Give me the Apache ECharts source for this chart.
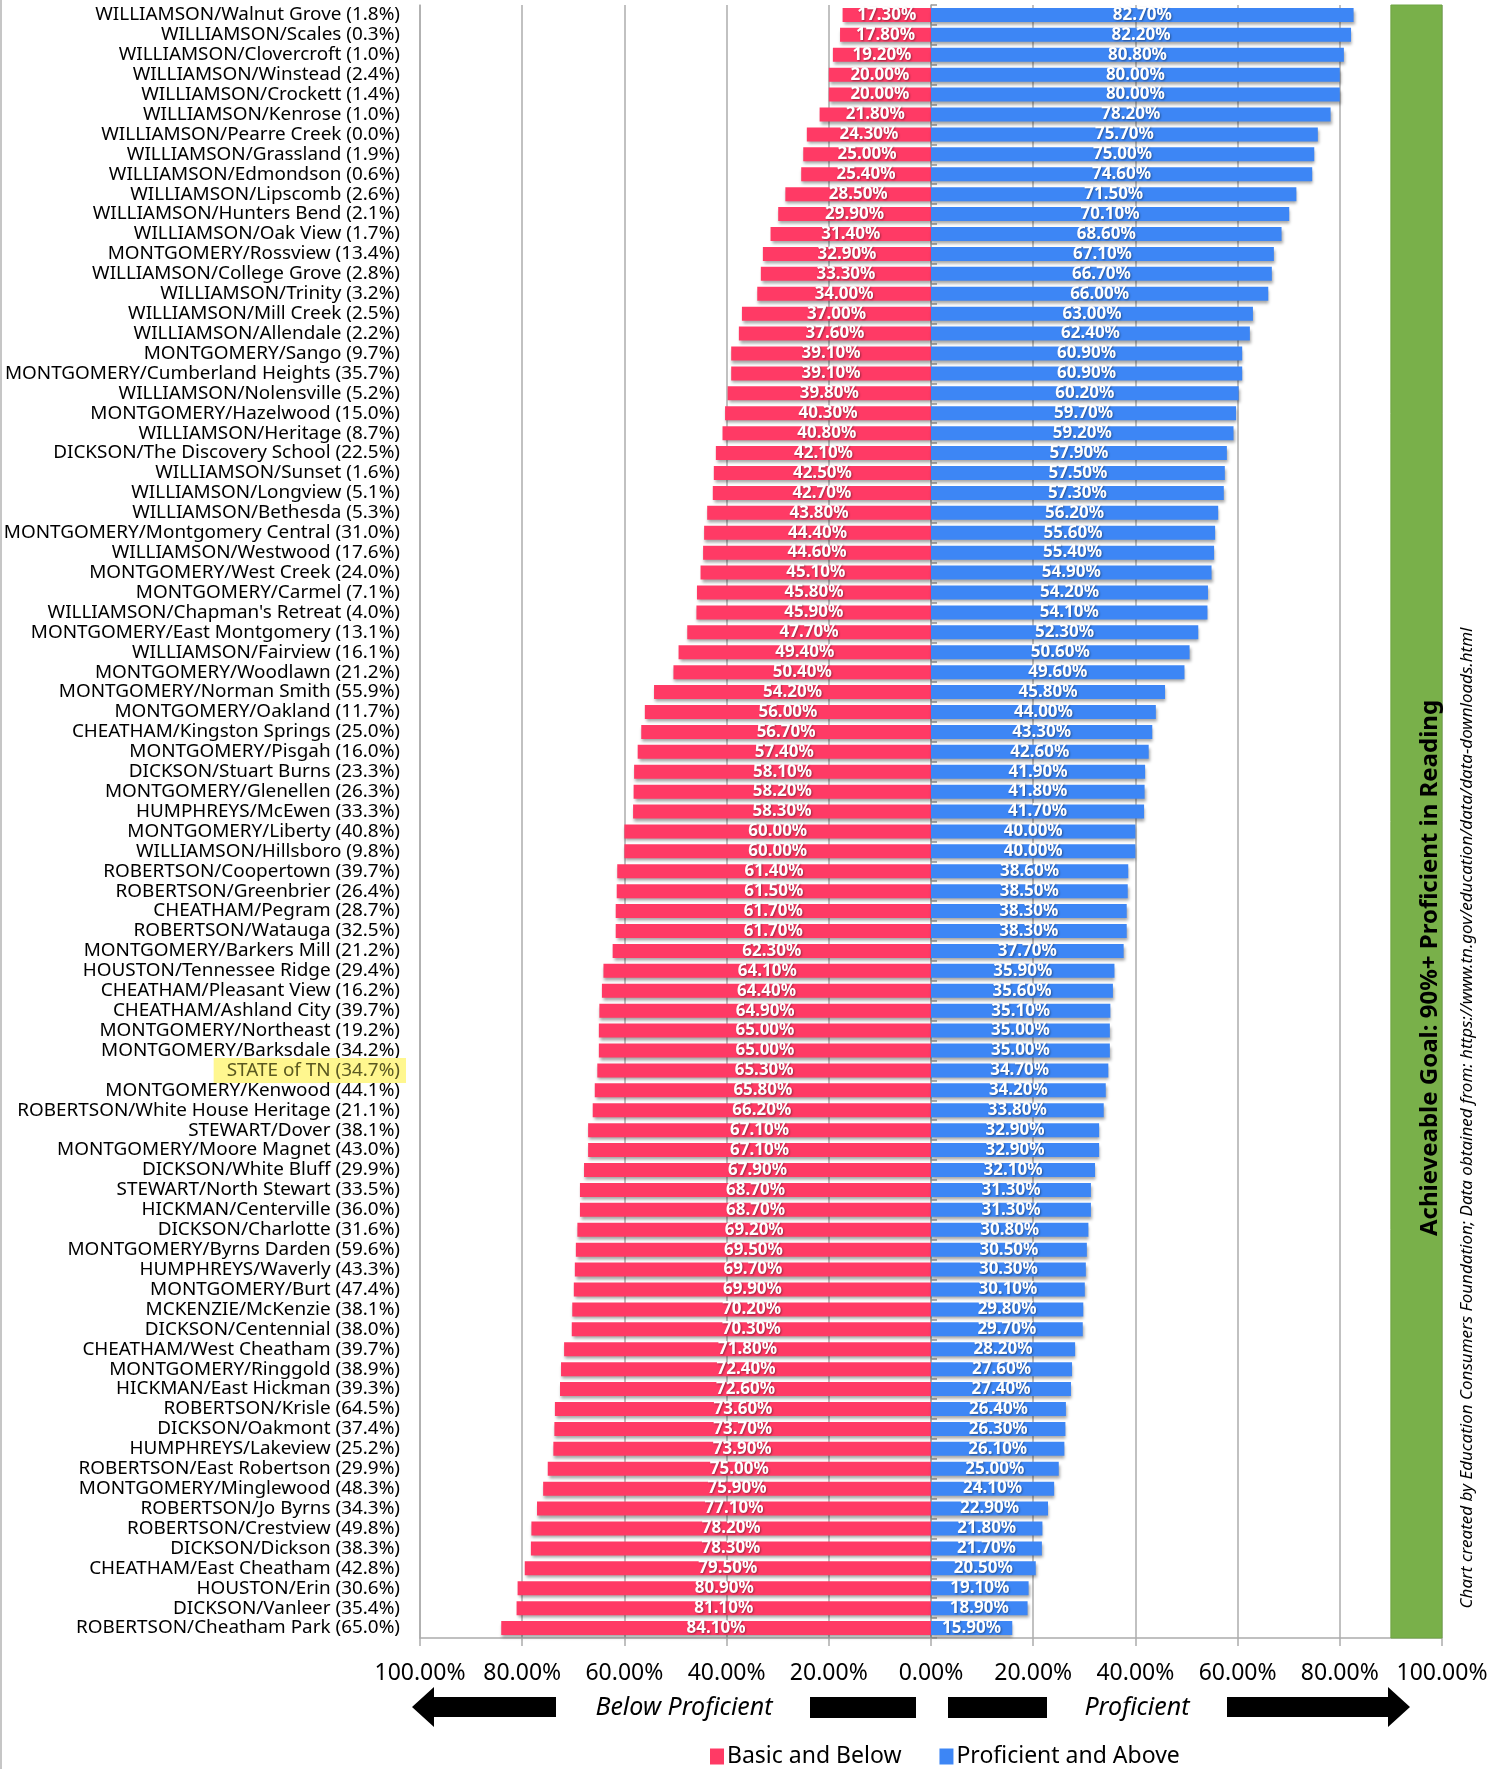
<!DOCTYPE html>
<html>
<head>
<meta charset="utf-8">
<script src="https://cdn.jsdelivr.net/npm/echarts@6/dist/echarts.min.js"></script>
<style>
html,body{margin:0;padding:0;background:#fff;}
#chart{width:1506px;height:1769px;}
</style>
</head>
<body>
<div id="chart"></div>
<script>
const categories = [
 'WILLIAMSON/Walnut Grove (1.8%)','WILLIAMSON/Scales (0.3%)','WILLIAMSON/Clovercroft (1.0%)','WILLIAMSON/Winstead (2.4%)',
 'WILLIAMSON/Crockett (1.4%)','WILLIAMSON/Kenrose (1.0%)','WILLIAMSON/Pearre Creek (0.0%)','WILLIAMSON/Grassland (1.9%)',
 'WILLIAMSON/Edmondson (0.6%)','WILLIAMSON/Lipscomb (2.6%)','WILLIAMSON/Hunters Bend (2.1%)','WILLIAMSON/Oak View (1.7%)',
 'MONTGOMERY/Rossview (13.4%)','WILLIAMSON/College Grove (2.8%)','WILLIAMSON/Trinity (3.2%)','WILLIAMSON/Mill Creek (2.5%)',
 'WILLIAMSON/Allendale (2.2%)','MONTGOMERY/Sango (9.7%)','MONTGOMERY/Cumberland Heights (35.7%)','WILLIAMSON/Nolensville (5.2%)',
 'MONTGOMERY/Hazelwood (15.0%)','WILLIAMSON/Heritage (8.7%)','DICKSON/The Discovery School (22.5%)','WILLIAMSON/Sunset (1.6%)',
 'WILLIAMSON/Longview (5.1%)','WILLIAMSON/Bethesda (5.3%)','MONTGOMERY/Montgomery Central (31.0%)','WILLIAMSON/Westwood (17.6%)',
 'MONTGOMERY/West Creek (24.0%)','MONTGOMERY/Carmel (7.1%)',"WILLIAMSON/Chapman's Retreat (4.0%)",'MONTGOMERY/East Montgomery (13.1%)',
 'WILLIAMSON/Fairview (16.1%)','MONTGOMERY/Woodlawn (21.2%)','MONTGOMERY/Norman Smith (55.9%)','MONTGOMERY/Oakland (11.7%)',
 'CHEATHAM/Kingston Springs (25.0%)','MONTGOMERY/Pisgah (16.0%)','DICKSON/Stuart Burns (23.3%)','MONTGOMERY/Glenellen (26.3%)',
 'HUMPHREYS/McEwen (33.3%)','MONTGOMERY/Liberty (40.8%)','WILLIAMSON/Hillsboro (9.8%)','ROBERTSON/Coopertown (39.7%)',
 'ROBERTSON/Greenbrier (26.4%)','CHEATHAM/Pegram (28.7%)','ROBERTSON/Watauga (32.5%)','MONTGOMERY/Barkers Mill (21.2%)',
 'HOUSTON/Tennessee Ridge (29.4%)','CHEATHAM/Pleasant View (16.2%)','CHEATHAM/Ashland City (39.7%)','MONTGOMERY/Northeast (19.2%)',
 'MONTGOMERY/Barksdale (34.2%)','STATE of TN (34.7%)','MONTGOMERY/Kenwood (44.1%)','ROBERTSON/White House Heritage (21.1%)',
 'STEWART/Dover (38.1%)','MONTGOMERY/Moore Magnet (43.0%)','DICKSON/White Bluff (29.9%)','STEWART/North Stewart (33.5%)',
 'HICKMAN/Centerville (36.0%)','DICKSON/Charlotte (31.6%)','MONTGOMERY/Byrns Darden (59.6%)','HUMPHREYS/Waverly (43.3%)',
 'MONTGOMERY/Burt (47.4%)','MCKENZIE/McKenzie (38.1%)','DICKSON/Centennial (38.0%)','CHEATHAM/West Cheatham (39.7%)',
 'MONTGOMERY/Ringgold (38.9%)','HICKMAN/East Hickman (39.3%)','ROBERTSON/Krisle (64.5%)','DICKSON/Oakmont (37.4%)',
 'HUMPHREYS/Lakeview (25.2%)','ROBERTSON/East Robertson (29.9%)','MONTGOMERY/Minglewood (48.3%)','ROBERTSON/Jo Byrns (34.3%)',
 'ROBERTSON/Crestview (49.8%)','DICKSON/Dickson (38.3%)','CHEATHAM/East Cheatham (42.8%)','HOUSTON/Erin (30.6%)',
 'DICKSON/Vanleer (35.4%)','ROBERTSON/Cheatham Park (65.0%)'
];
const basicAndBelow = [
 17.3,17.8,19.2,20.0,20.0,21.8,24.3,25.0,25.4,28.5,29.9,31.4,32.9,33.3,34.0,37.0,37.6,39.1,39.1,39.8,
 40.3,40.8,42.1,42.5,42.7,43.8,44.4,44.6,45.1,45.8,45.9,47.7,49.4,50.4,54.2,56.0,56.7,57.4,58.1,58.2,
 58.3,60.0,60.0,61.4,61.5,61.7,61.7,62.3,64.1,64.4,64.9,65.0,65.0,65.3,65.8,66.2,67.1,67.1,67.9,68.7,
 68.7,69.2,69.5,69.7,69.9,70.2,70.3,71.8,72.4,72.6,73.6,73.7,73.9,75.0,75.9,77.1,78.2,78.3,79.5,80.9,
 81.1,84.1
];
const proficientAndAbove = [
 82.7,82.2,80.8,80.0,80.0,78.2,75.7,75.0,74.6,71.5,70.1,68.6,67.1,66.7,66.0,63.0,62.4,60.9,60.9,60.2,
 59.7,59.2,57.9,57.5,57.3,56.2,55.6,55.4,54.9,54.2,54.1,52.3,50.6,49.6,45.8,44.0,43.3,42.6,41.9,41.8,
 41.7,40.0,40.0,38.6,38.5,38.3,38.3,37.7,35.9,35.6,35.1,35.0,35.0,34.7,34.2,33.8,32.9,32.9,32.1,31.3,
 31.3,30.8,30.5,30.3,30.1,29.8,29.7,28.2,27.6,27.4,26.4,26.3,26.1,25.0,24.1,22.9,21.8,21.7,20.5,19.1,
 18.9,15.9
];
const highlightCategory = 'STATE of TN (34.7%)';
const goalRange = [90, 100];
const axisMin = -100, axisMax = 100, axisInterval = 20;
const seriesNames = ['Basic and Below', 'Proficient and Above'];
const goalText = 'Achieveable Goal: 90%+ Proficient in Reading';
const sourceText = 'Chart created by Education Consumers Foundation; Data obtained from: https://www.tn.gov/education/data/data-downloads.html';

const RED = '#FF3A65', BLUE = '#3D86F5', GREEN = '#79B04A', GRID = '#ACACAC';
const FONT = "'Noto Sans', 'DejaVu Sans', sans-serif";
const NARROW = "'Liberation Sans Narrow', 'Noto Sans', sans-serif";
const CAT_FS = 18.9;

const chart = echarts.init(document.getElementById('chart'), null, {renderer: 'canvas'});

const barLabel = {
  show: true, position: 'inside', color: '#fff', fontFamily: FONT, fontSize: 17, fontWeight: 'bold',
  textShadowColor: 'rgba(0,0,0,0.4)', textShadowBlur: 2, textShadowOffsetX: 1, textShadowOffsetY: 1,
  formatter: p => Math.abs(p.value).toFixed(2) + '%'
};
const barShadow = {shadowColor: 'rgba(0,0,0,0.35)', shadowBlur: 3, shadowOffsetX: 1, shadowOffsetY: 3};

const option = {
  backgroundColor: '#fff',
  animation: false,
  grid: {left: 420, right: 64, top: 5, bottom: 131, containLabel: false},
  legend: {
    data: seriesNames, left: 705, top: 1740, itemGap: 38, itemWidth: 14, itemHeight: 16,
    icon: 'rect',
    textStyle: {fontFamily: NARROW, fontSize: 23, color: '#000', padding: [0, 0, 0, -2]}
  },
  xAxis: {
    type: 'value', min: axisMin, max: axisMax, interval: axisInterval,
    axisLine: {show: true, onZero: false, lineStyle: {color: GRID, width: 1.5}},
    axisTick: {show: true, length: 8, lineStyle: {color: GRID, width: 1.5}},
    splitLine: {show: true, lineStyle: {color: GRID, width: 1.5}},
    axisLabel: {
      margin: 24, color: '#000', fontFamily: NARROW, fontSize: 23,
      formatter: v => Math.abs(v).toFixed(2) + '%'
    }
  },
  yAxis: [
    {
      type: 'category', data: categories, inverse: true,
      axisLine: {show: true, onZero: false, lineStyle: {color: GRID, width: 1.5}},
      axisTick: {show: false},
      axisLabel: {
        interval: 0, margin: 14, fontFamily: FONT, fontSize: CAT_FS, color: '#000',
        formatter: v => v === highlightCategory ? '{hl|' + v + '}' : '{n|' + v + '}',
        rich: {
          n: {fontFamily: FONT, fontSize: CAT_FS, color: '#000', padding: [0, 6, 0, 0]},
          hl: {fontFamily: FONT, fontSize: CAT_FS, color: '#5A5820', backgroundColor: '#FFF78F', padding: [3, 6, 3, 13]}
        }
      }
    },
    {
      type: 'category', data: categories, inverse: true,
      axisLine: {show: true, onZero: true, lineStyle: {color: GRID, width: 1.5}},
      axisTick: {show: true, interval: 0, length: 6, lineStyle: {color: '#999', width: 1.5}},
      axisLabel: {show: false}
    }
  ],
  series: [
    {
      name: seriesNames[0], type: 'bar', yAxisIndex: 0, barWidth: 14, barGap: '-100%',
      itemStyle: Object.assign({color: RED}, barShadow),
      label: barLabel,
      data: basicAndBelow.map(v => -v),
      z: 3
    },
    {
      name: seriesNames[1], type: 'bar', yAxisIndex: 0, barWidth: 14,
      itemStyle: Object.assign({color: BLUE}, barShadow),
      label: barLabel,
      data: proficientAndAbove,
      z: 3,
      markArea: {
        silent: true,
        itemStyle: {color: GREEN, borderColor: '#6FA543', borderWidth: 1},
        data: [[{xAxis: goalRange[0]}, {xAxis: goalRange[1]}]]
      }
    }
  ],
  graphic: [
    {type: 'line', shape: {x1: 1, y1: 0, x2: 1, y2: 1769}, style: {stroke: '#C6C6C6', lineWidth: 2}, silent: true},
    {type: 'text', x: 1430, y: 968, rotation: Math.PI / 2, z: 10,
     style: {text: goalText, fill: '#000', font: "bold 24px 'Noto Sans', sans-serif", align: 'center', verticalAlign: 'middle'}},
    {type: 'text', x: 1467, y: 1118, rotation: Math.PI / 2, z: 10,
     style: {text: sourceText, fill: '#000', font: "italic 17px 'Noto Sans', sans-serif", align: 'center', verticalAlign: 'middle'}},
    {type: 'polygon', shape: {points: [[412,1707],[434,1687],[434,1697],[556,1697],[556,1717],[434,1717],[434,1727]]}, style: {fill: '#000'}},
    {type: 'rect', shape: {x: 810, y: 1697, width: 106, height: 21}, style: {fill: '#000'}},
    {type: 'rect', shape: {x: 948, y: 1697, width: 99, height: 21}, style: {fill: '#000'}},
    {type: 'polygon', shape: {points: [[1410,1707],[1388,1687],[1388,1697],[1227,1697],[1227,1717],[1388,1717],[1388,1727]]}, style: {fill: '#000'}},
    {type: 'text', x: 684, y: 1708, style: {text: 'Below Proficient', fill: '#000', font: "italic 25px 'Liberation Sans Narrow', 'Noto Sans', sans-serif", align: 'center', verticalAlign: 'middle'}},
    {type: 'text', x: 1137, y: 1708, style: {text: 'Proficient', fill: '#000', font: "italic 25px 'Liberation Sans Narrow', 'Noto Sans', sans-serif", align: 'center', verticalAlign: 'middle'}}
  ]
};
chart.setOption(option);
</script>
</body>
</html>
